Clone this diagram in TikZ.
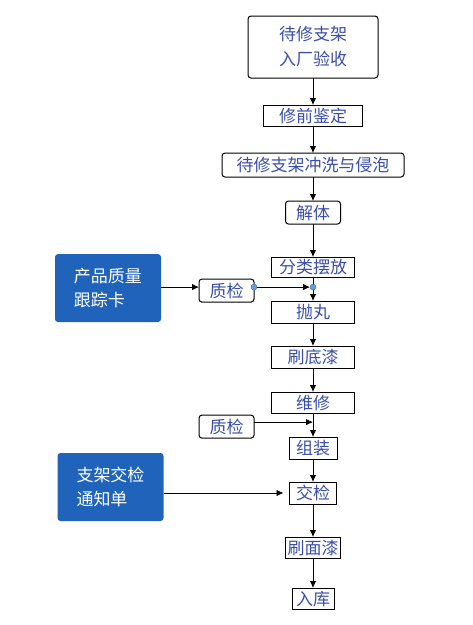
\documentclass[tikz,border=0pt]{standalone}
\usepackage{fontspec}
\usepackage{xcolor}
\usepackage{tikz}
\usetikzlibrary{shapes,arrows.meta,positioning,calc}
\newfontfamily\cjk{Noto Sans CJK SC}
\definecolor{txtblue}{RGB}{58,78,168}
\definecolor{cardblue}{RGB}{31,99,187}
\definecolor{dotblue}{RGB}{100,155,225}

\begin{document}
\begin{tikzpicture}[auto, >={Latex[length=7pt,width=6.5pt]}, line width=0.8pt]
    % Define styles
    \tikzstyle{boxbase} = [rectangle, draw, line width=1pt, outer sep=0pt, text=txtblue, font=\cjk\fontsize{17pt}{25pt}\selectfont, inner sep=0pt, align=center]
    \tikzstyle{stepbox} = [boxbase, text height=15pt, text depth=2pt]
    \tikzstyle{roundbox} = [stepbox, rounded corners=3pt]
    \tikzstyle{card} = [rectangle, rounded corners=3pt, fill=cardblue, text=white, font=\cjk\fontsize{17pt}{24pt}\selectfont, inner sep=0pt, outer sep=0pt, align=left, minimum width=106pt, minimum height=68pt]
    \tikzstyle{dot} = [circle, fill=dotblue, draw=dotblue!70!black, line width=0.4pt, inner sep=0pt, minimum size=6pt]
    \tikzstyle{line} = [draw, ->]

    \useasboundingbox (0,0) rectangle (473pt,-625pt);

    % Main chain
    \node [boxbase, rounded corners=3pt, minimum width=130pt, minimum height=62pt] (accept) at (313pt,-47pt) {待修支架\\入厂验收};
    \node [stepbox, minimum width=99pt, minimum height=21pt, below=27pt of accept] (judge) {修前鉴定};
    \node [roundbox, minimum width=182pt, minimum height=24pt, below=27pt of judge] (wash) {待修支架冲洗与侵泡};
    \node [roundbox, minimum width=55pt, minimum height=23pt, below=24pt of wash] (dismantle) {解体};
    \node [stepbox, minimum width=83pt, minimum height=20pt, below=33pt of dismantle] (sort) {分类摆放};
    \node [stepbox, minimum width=83pt, minimum height=22pt, below=24pt of sort] (blast) {抛丸};
    \node [stepbox, minimum width=83pt, minimum height=22pt, below=23pt of blast] (primer) {刷底漆};
    \node [stepbox, minimum width=83pt, minimum height=21pt, below=24pt of primer] (repair) {维修};
    \node [stepbox, minimum width=48pt, minimum height=22pt, below=24pt of repair] (assemble) {组装};
    \node [stepbox, minimum width=47pt, minimum height=22pt, below=23pt of assemble] (handover) {交检};
    \node [stepbox, minimum width=55pt, minimum height=21pt, below=33pt of handover] (topcoat) {刷面漆};
    \node [stepbox, minimum width=42pt, minimum height=21pt, below=30pt of topcoat] (store) {入库};

    % Side inputs
    \coordinate (join1) at ($(sort.south)!0.42!(blast.north)$);
    \coordinate (join2) at ($(repair.south)!0.38!(assemble.north)$);
    \node [roundbox, minimum width=55pt, minimum height=23pt, left=59pt of join1, yshift=-3.5pt] (check1) {质检};
    \node [card, left=38pt of check1, yshift=2.5pt] (trackcard) {产品质量\\跟踪卡};
    \node [roundbox, minimum width=55pt, minimum height=23pt, left=59pt of join2, yshift=-4.5pt] (check2) {质检};
    \node [card, left=126pt of handover, yshift=6pt] (notice) {支架交检\\通知单};

    % Arrows
    \draw [line] (accept) -- (judge);
    \draw [line] (judge) -- (wash);
    \draw [line] (wash) -- (dismantle);
    \draw [line] (dismantle) -- (sort);
    \draw [line] (sort) -- (blast);
    \draw [line] (blast) -- (primer);
    \draw [line] (primer) -- (repair);
    \draw [line] (repair) -- (assemble);
    \draw [line] (assemble) -- (handover);
    \draw [line] (handover) -- (topcoat);
    \draw [line] (topcoat) -- (store);
    \draw [line] (trackcard.east |- join1) -- (check1.west |- join1);
    \draw [line, shorten >=3pt] (check1.east |- join1) -- (join1);
    \draw [line] (check2.east |- join2) -- (join2);
    \draw [line, shorten >=6pt] (notice.east |- handover.west) -- (handover.west);

    % Dots
    \node [dot] (out1) at (check1.east |- join1) {};
    \node [dot] (in1) at (join1) {};
\end{tikzpicture}
\end{document}
